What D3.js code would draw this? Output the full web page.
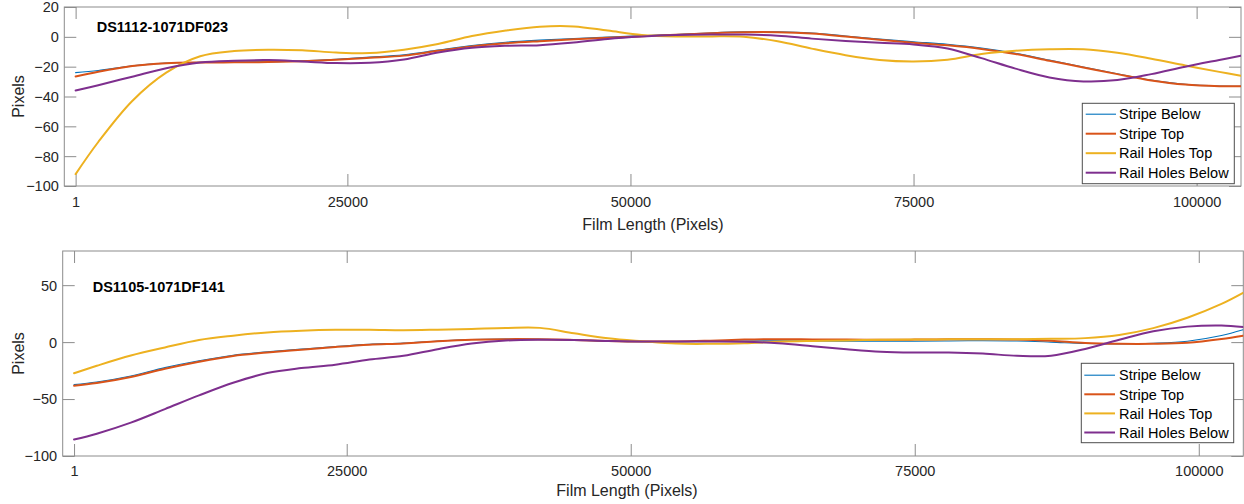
<!DOCTYPE html>
<html>
<head>
<meta charset="utf-8">
<script src="https://cdn.jsdelivr.net/npm/d3@7"></script>
<style>
  body { margin: 0; background: #fff; }
  svg { display: block; }
  text { font-family: "Liberation Sans", Arial, Helvetica, sans-serif; }
</style>
</head>
<body>
<svg id="chart" width="1244" height="504"></svg>
<script>
// ---- data -------------------------------------------------------------
const seriesNames  = ["Stripe Below", "Stripe Top", "Rail Holes Top", "Rail Holes Below"];

// sample positions along the film (pixels)
const filmPos = [1000, 3000, 6000, 9000, 12000, 15000, 18000, 21000, 24000, 27000,
                 30000, 33000, 36000, 39000, 42000, 45000, 48000, 51000, 54000, 57000,
                 60000, 63000, 66000, 69000, 72000, 75000, 78000, 81000, 84000, 87000,
                 90000, 93000, 96000, 99000, 102000, 103900];

const xTickPos    = [1000, 25000, 50000, 75000, 100000];
const xTickLabels = ["1", "25000", "50000", "75000", "100000"];

// DS1112-1071DF023
const topTitle = "DS1112-1071DF023";
const topStripeBelow = [-24.0, -22.6, -19.5, -17.6, -17.1, -16.9, -16.7, -16.1, -15.0, -13.6,
                        -12.0, -8.9, -5.8, -3.6, -2.2, -1.1, -0.2, 0.7, 1.6, 2.6,
                        3.3, 3.3, 2.5, 0.6, -1.5, -3.3, -5.0, -7.5, -11.0, -15.6,
                        -20.2, -24.8, -29.0, -31.9, -33.0, -33.1];
const topStripeTop   = [-26.6, -23.4, -19.6, -17.7, -17.2, -17.1, -16.9, -16.3, -15.3, -14.0,
                        -12.6, -9.4, -6.4, -4.3, -2.9, -1.7, -0.6, 0.4, 1.4, 2.4,
                        3.1, 3.1, 2.2, 0.2, -2.0, -3.9, -5.7, -8.1, -11.5, -16.0,
                        -20.5, -25.0, -29.2, -32.0, -33.1, -33.2];
const topRailTop     = [-92.0, -70.5, -43.0, -24.0, -13.0, -9.5, -8.6, -9.0, -10.5, -10.9,
                        -8.6, -4.8, 0.5, 4.2, 6.8, 7.0, 4.2, 1.3, 0.3, 0.3,
                        0.0, -3.0, -7.9, -12.3, -15.5, -16.5, -15.3, -11.5, -9.3, -8.3,
                        -8.3, -10.7, -14.7, -19.2, -23.5, -26.1];
const topRailBelow   = [-36.0, -32.4, -26.7, -21.0, -17.2, -16.0, -15.6, -16.5, -17.6, -17.4,
                        -15.2, -10.5, -7.3, -6.0, -5.6, -3.8, -1.4, 0.2, 1.3, 1.6,
                        1.5, 0.8, -1.2, -2.8, -4.0, -5.1, -7.8, -14.3, -21.3, -27.2,
                        -29.9, -29.0, -25.0, -20.0, -15.5, -12.7];
const topYTicks = [20, 0, -20, -40, -60, -80, -100];

// DS1105-1071DF141
const bottomTitle = "DS1105-1071DF141";
const bottomStripeBelow = [-37.3, -35.0, -29.7, -22.4, -16.4, -11.5, -8.6, -6.1, -3.8, -1.9,
                           -0.8, 1.0, 2.3, 2.7, 2.5, 1.8, 0.9, 0.3, 0.3, 0.6,
                           1.0, 1.1, 1.0, 0.8, 0.7, 0.8, 1.0, 1.2, 1.0, 0.0,
                           -1.2, -1.6, -1.0, 0.8, 5.8, 10.8];
const bottomStripeTop   = [-38.3, -36.0, -30.7, -23.4, -17.2, -12.1, -9.2, -6.7, -4.3, -2.3,
                           -1.2, 0.7, 2.1, 2.6, 2.5, 1.9, 1.0, 0.5, 0.6, 1.3,
                           2.2, 2.6, 2.4, 2.2, 2.0, 2.2, 2.5, 2.6, 2.4, 1.2,
                           -0.8, -1.5, -1.5, -0.6, 2.7, 5.6];
const bottomRailTop     = [-27.3, -20.8, -11.8, -4.7, 1.8, 5.6, 8.5, 10.0, 10.8, 10.8,
                           10.4, 10.9, 11.6, 12.4, 12.5, 7.8, 3.4, 0.8, -1.3, -1.5,
                           -1.0, 0.3, 1.0, 1.5, 2.0, 2.2, 2.5, 2.6, 2.6, 2.9,
                           3.5, 6.3, 12.3, 21.4, 33.5, 43.2];
const bottomRailBelow   = [-85.5, -80.4, -70.7, -58.8, -46.8, -35.7, -27.2, -22.8, -19.8, -15.3,
                           -12.0, -6.2, -1.3, 1.4, 2.1, 1.9, 1.0, 0.5, 0.5, 0.5,
                           0.3, -1.0, -3.6, -6.3, -8.5, -9.2, -9.2, -10.1, -12.0, -12.0,
                           -6.0, 2.0, 9.5, 13.6, 14.6, 13.2];
const bottomYTicks = [50, 0, -50, -100];

// ---- styling ------------------------------------------------------------
const seriesColors = ["#0072BD", "#D95319", "#EDB120", "#7E2F8E"];
const seriesWidths = [1.1, 2, 2, 2];
const axisColor = "#8c8c8c";
const textColor = "#262626";
const tickLen = 12;

const panels = [
  {
    title: topTitle, series: [topStripeBelow, topStripeTop, topRailTop, topRailBelow],
    yDomain: [-100, 20], yTicks: topYTicks,
    left: 64.3, right: 1241, top: 7, bottom: 186,
    titleX: 96.7, titleY: 31.7,
    xLabelX: 653, xLabelY: 229.5, yLabelX: 23.5, tickPad: 10.6,
    legend: { x: 1082.3, y: 103.3, w: 152, h: 80.4, lineX0: 1085.7, lineX1: 1116, textX: 1119, rowY0: 114.2, rowDy: 19.5 }
  },
  {
    title: bottomTitle, series: [bottomStripeBelow, bottomStripeTop, bottomRailTop, bottomRailBelow],
    yDomain: [-100, 80], yTicks: bottomYTicks,
    left: 62.7, right: 1243.3, top: 251, bottom: 456,
    titleX: 92.7, titleY: 291.7,
    xLabelX: 627, xLabelY: 496, yLabelX: 23.5, tickPad: 9.8,
    legend: { x: 1081.3, y: 363.3, w: 152.4, h: 79.4, lineX0: 1084.3, lineX1: 1115, textX: 1119, rowY0: 375.2, rowDy: 19.1 }
  }
];

const svg = d3.select("#chart");

panels.forEach((p, pi) => {
  const x = d3.scaleLinear().domain([0, 103920]).range([p.left, p.right]);
  const y = d3.scaleLinear().domain(p.yDomain).range([p.bottom, p.top]);
  const g = svg.append("g");

  // clip region for the curves
  const clipId = "clip" + pi;
  svg.append("clipPath").attr("id", clipId)
    .append("rect").attr("x", p.left).attr("y", p.top)
    .attr("width", p.right - p.left).attr("height", p.bottom - p.top);

  // bottom axis with labels (ticks point inward)
  const xb = g.append("g").attr("transform", `translate(0,${p.bottom})`)
    .call(d3.axisBottom(x).tickValues(xTickPos).tickFormat((d, i) => xTickLabels[i])
      .tickSizeInner(-tickLen).tickSizeOuter(0).tickPadding(p.tickPad));
  // top axis: ticks only
  const xt = g.append("g").attr("transform", `translate(0,${p.top})`)
    .call(d3.axisTop(x).tickValues(xTickPos).tickFormat("")
      .tickSizeInner(-tickLen).tickSizeOuter(0));
  // left axis with labels
  const yl = g.append("g").attr("transform", `translate(${p.left},0)`)
    .call(d3.axisLeft(y).tickValues(p.yTicks).tickFormat(d3.format("d"))
      .tickSizeInner(-tickLen).tickSizeOuter(0).tickPadding(5.5));
  // right axis: ticks only
  const yr = g.append("g").attr("transform", `translate(${p.right},0)`)
    .call(d3.axisRight(y).tickValues(p.yTicks).tickFormat("")
      .tickSizeInner(-tickLen).tickSizeOuter(0));

  [xb, xt, yl, yr].forEach(a => {
    a.select(".domain").remove();
    a.selectAll(".tick line").attr("stroke", axisColor).attr("stroke-width", 1);
    a.selectAll(".tick text").attr("fill", textColor).attr("font-size", "14.5px")
      .attr("font-family", "'Liberation Sans', Arial, Helvetica, sans-serif");
  });
  yl.selectAll(".tick text").attr("dy", "0.34em");

  // axes box
  g.append("rect")
    .attr("x", p.left).attr("y", p.top)
    .attr("width", p.right - p.left).attr("height", p.bottom - p.top)
    .attr("fill", "none").attr("stroke", axisColor).attr("stroke-width", 1);

  // curves
  const line = d3.line()
    .x((d, i) => x(filmPos[i]))
    .y(d => y(d))
    .curve(d3.curveCatmullRom.alpha(0.5));
  const curves = g.append("g").attr("clip-path", `url(#${clipId})`);
  p.series.forEach((vals, si) => {
    curves.append("path")
      .datum(vals)
      .attr("d", line)
      .attr("fill", "none")
      .attr("stroke", seriesColors[si])
      .attr("stroke-width", seriesWidths[si])
      .attr("stroke-linejoin", "round")
      .attr("stroke-linecap", "round");
  });

  // panel title
  g.append("text")
    .attr("x", p.titleX).attr("y", p.titleY)
    .attr("font-size", "14.5px").attr("font-weight", "bold").attr("fill", "#000")
    .text(p.title);

  // axis labels
  g.append("text")
    .attr("x", p.xLabelX).attr("y", p.xLabelY)
    .attr("text-anchor", "middle").attr("font-size", "16px").attr("fill", textColor)
    .text("Film Length (Pixels)");
  g.append("text")
    .attr("transform", `translate(${p.yLabelX},${(p.top + p.bottom) / 2}) rotate(-90)`)
    .attr("text-anchor", "middle").attr("font-size", "16px").attr("fill", textColor)
    .text("Pixels");

  // legend
  const L = p.legend;
  const lg = g.append("g");
  lg.append("rect")
    .attr("x", L.x).attr("y", L.y).attr("width", L.w).attr("height", L.h)
    .attr("fill", "#fff").attr("stroke", "#4d4d4d").attr("stroke-width", 1);
  seriesNames.forEach((name, si) => {
    const ry = L.rowY0 + si * L.rowDy;
    lg.append("line")
      .attr("x1", L.lineX0).attr("x2", L.lineX1).attr("y1", ry).attr("y2", ry)
      .attr("stroke", seriesColors[si]).attr("stroke-width", seriesWidths[si]);
    lg.append("text")
      .attr("x", L.textX).attr("y", ry).attr("dy", "0.36em")
      .attr("font-size", "14.5px").attr("fill", "#000")
      .text(name);
  });
});
</script>
</body>
</html>
